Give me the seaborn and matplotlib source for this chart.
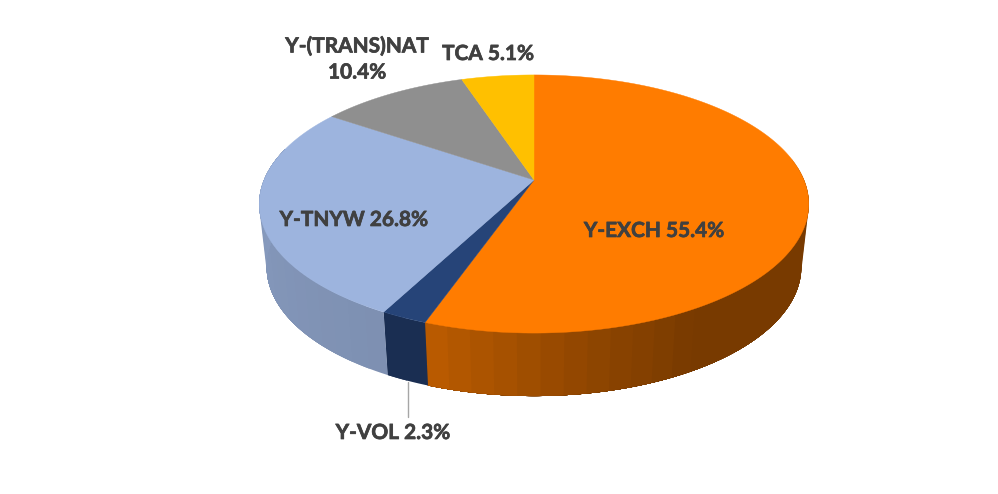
import numpy as np
import matplotlib
matplotlib.use("Agg")
import matplotlib.pyplot as plt
import matplotlib.colors as mc
import matplotlib.patheffects as pe
import seaborn as sns

categories = ["Y-EXCH", "Y-VOL", "Y-TNYW", "Y-(TRANS)NAT", "TCA"]
shares = [55.4, 2.3, 26.8, 10.4, 5.1]
slice_colors = ["#FF7C00", "#264478", "#9DB4DE", "#8F8F8F", "#FFC000"]
label_texts = ["Y-EXCH 55.4%", "Y-VOL 2.3%", "Y-TNYW 26.8%", "Y-(TRANS)NAT\n10.4%", "TCA 5.1%"]
label_centres = [(654, 231), (393, 433), (354, 220), (357, 59.5), (488, 54)]

sns.set_theme(style="white")
plt.rcParams["font.family"] = ["Lato", "DejaVu Sans"]

fig = plt.figure(figsize=(9.98, 4.94), dpi=100, facecolor="white")
ax = fig.add_axes([0, 0, 1, 1])
ax.set_xlim(0, 998)
ax.set_ylim(494, 0)
ax.axis("off")

# perspective projection of the pie disc (page pixels)
CX, CY, A, B, K = 534.0, 180.0, 270.0, 124.6, 0.186
DEPTH, SHRINK = 63.0, 0.973


def top_rim(theta):
    u, v = np.sin(theta), np.cos(theta)
    d = 1 + K * v
    return CX + A * u / d, CY - B * v / d


def bottom_rim(theta):
    x, y = top_rim(theta)
    return CX + SHRINK * (x - CX), y + DEPTH


def shade(name, theta):
    deg = np.degrees(theta)
    if name == "Y-EXCH":
        return np.interp(deg, [90, 150, 170, 200], [0.47, 0.47, 0.56, 0.74])
    if name == "Y-VOL":
        return 0.68
    return np.interp(deg, [208, 300], [0.80, 0.88])


edges = np.radians(np.concatenate([[0], np.cumsum(shares)]) * 3.6 / (sum(shares) / 100))

# side wall: facets painted over one another so that no seams show
for name, col, t0, t1 in zip(categories, slice_colors, edges[:-1], edges[1:]):
    lo, hi = max(t0, np.radians(80)), min(t1, np.radians(285))
    if lo >= hi:
        continue
    n = max(2, int(np.degrees(hi - lo) / 4.0))
    steps = np.linspace(lo, hi, n + 1)
    rgb = np.array(mc.to_rgb(col))
    for s0, s1 in zip(steps[:-1], steps[1:]):
        th = np.linspace(s0, hi, 60)
        xt, yt = top_rim(th)
        xb, yb = bottom_rim(th)
        c = tuple(rgb * shade(name, (s0 + s1) / 2))
        ax.fill(np.r_[xt, xb[::-1]], np.r_[yt, yb[::-1]], color=c, lw=0, zorder=2)

# top face
for col, t0, t1 in zip(slice_colors, edges[:-1], edges[1:]):
    th = np.linspace(t0, t1, 240)
    x, y = top_rim(th)
    ax.fill(np.r_[CX, x], np.r_[CY, y], color=col, lw=0.3, zorder=3)

# leader line of the small slice
ax.plot([408, 408], [382, 417], color="#A6A6A6", lw=1.0, zorder=4)

for txt, (lx, ly) in zip(label_texts, label_centres):
    ax.text(lx, ly, txt, ha="center", va="center", fontsize=15, fontweight="bold",
            color="#404040", linespacing=1.38, zorder=5,
            path_effects=[pe.withStroke(linewidth=0.5, foreground="#404040")])

fig.savefig("out.png", dpi=100, facecolor="white")
